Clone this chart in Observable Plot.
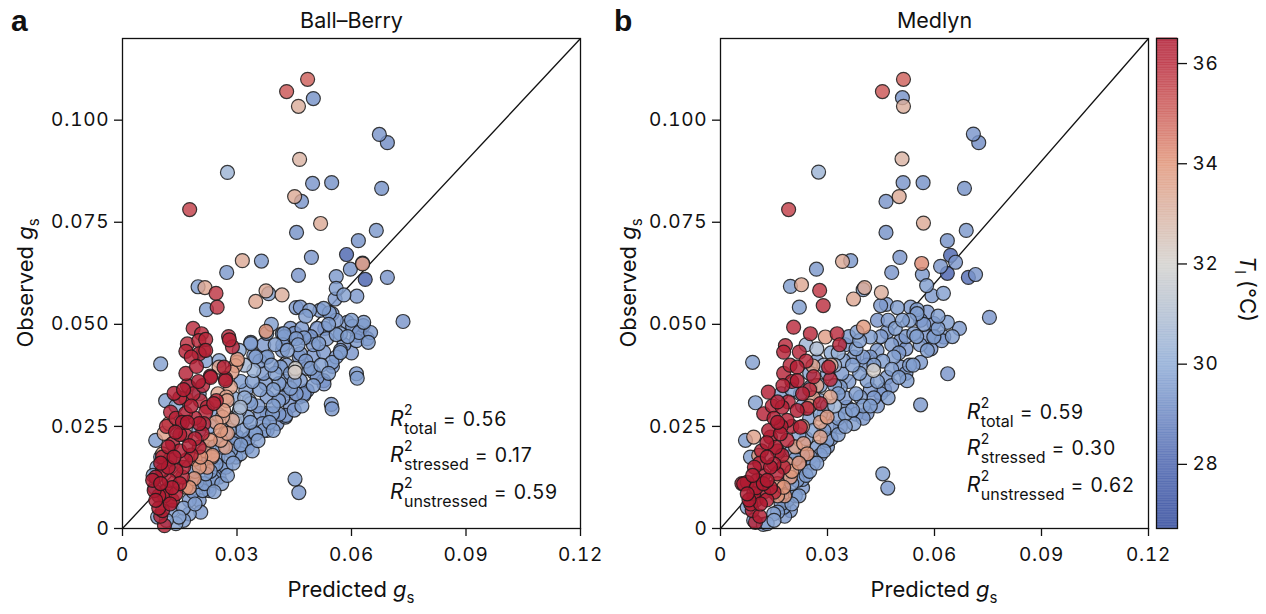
<!DOCTYPE html>
<html><head><meta charset="utf-8">
<script src="https://cdn.jsdelivr.net/npm/d3@7"></script>
<script src="https://cdn.jsdelivr.net/npm/@observablehq/plot@0.6"></script>
<style>
body{margin:0;background:#fff;}
#wrap{position:relative;width:1266px;height:614px;font-family:Inter,"Noto Sans",sans-serif;color:#111;}
#wrap svg{position:absolute;top:0;overflow:visible;}
</style></head><body><div id="wrap"></div>
<script>
// [predicted gs, observed gs, leaf temperature °C]
const ballBerry = [
[0.0485,0.110,35.0],[0.0430,0.107,35.2],[0.0500,0.1053,29.3],[0.0461,0.1034,33.2],[0.0673,0.0965,29.4],[0.0694,0.0945,29.2],
[0.0464,0.0904,33.0],[0.0275,0.0872,30.4],[0.0498,0.0845,29.4],[0.0548,0.0847,29.3],[0.0679,0.0833,29.3],[0.0451,0.0813,33.3],
[0.0469,0.0801,29.4],[0.0176,0.0781,35.6],[0.0519,0.0747,33.3],[0.0456,0.0725,29.3],[0.0665,0.0730,29.5],[0.0618,0.0705,29.3],
[0.0587,0.0671,28.1],[0.0629,0.0650,29.4],[0.0629,0.0648,33.8],[0.0495,0.0664,29.4],[0.0364,0.0655,29.5],[0.0314,0.0656,33.3],
[0.0273,0.0627,29.5],[0.0461,0.0620,29.4],[0.0597,0.0635,29.3],[0.0636,0.0610,28.0],[0.0694,0.0615,29.4],[0.0560,0.0617,29.5],
[0.0560,0.0588,29.6],[0.0614,0.0569,29.5],[0.0580,0.0572,29.7],[0.0557,0.0562,29.5],[0.0198,0.0592,29.6],[0.0216,0.0590,33.4],
[0.0245,0.0576,35.8],[0.0248,0.0542,35.9],[0.0220,0.0536,29.6],[0.0349,0.0556,33.4],[0.0376,0.0582,33.3],[0.0383,0.0575,29.8],
[0.0418,0.0572,33.2],[0.0455,0.0541,29.5],[0.0490,0.0534,29.6],[0.0517,0.0534,29.5],[0.0542,0.0528,29.6],[0.0735,0.0507,29.4],
[0.0376,0.0483,34.0],[0.0378,0.0478,29.6],[0.0185,0.0490,36.0],[0.0207,0.0477,36.1],[0.0218,0.0463,36.2],[0.0278,0.0470,36.0],
[0.0280,0.0462,36.3],[0.0288,0.0445,36.1],[0.0100,0.0403,29.7],[0.0170,0.0452,35.9],[0.0166,0.0434,36.2],[0.0201,0.0428,36.2],
[0.0218,0.0436,36.3],[0.0194,0.0397,36.4],[0.0166,0.0380,36.3],[0.0199,0.0360,36.5],[0.0230,0.0373,36.3],[0.0266,0.0395,36.4],
[0.0270,0.0367,36.2],[0.0135,0.0331,36.4],[0.0166,0.0318,36.1],[0.0204,0.0313,36.0],[0.0246,0.0313,36.2],
[0.0296,0.0399,33.6],[0.0301,0.0414,33.8],[0.0253,0.0395,33.5],[0.0272,0.0322,33.6],[0.0300,0.0407,33.4],[0.0287,0.0383,33.7],
[0.0283,0.0346,33.5],[0.0274,0.0313,33.6],[0.0265,0.0289,33.8],[0.0257,0.0240,33.9],[0.0257,0.0216,33.6],[0.0270,0.0199,33.5],
[0.0235,0.0175,33.7],[0.0222,0.0150,33.9],[0.0122,0.0257,33.8],[0.0109,0.0233,33.6],[0.0105,0.0183,33.7],[0.0230,0.0216,34.0],
[0.0236,0.0179,33.8],[0.0205,0.0175,34.1],[0.0201,0.0150,33.9],[0.0188,0.0122,34.0],[0.0166,0.0101,33.8],[0.0262,0.0273,33.5],
[0.0288,0.0265,33.3],[0.0275,0.0233,33.6],[0.0452,0.0383,32.2],
[0.0466,0.0542,29.5],[0.0527,0.0539,29.6],[0.0549,0.0526,29.4],[0.0589,0.0505,29.5],[0.0632,0.0505,29.6],[0.0641,0.0465,29.5],
[0.0615,0.0473,29.4],[0.0571,0.0477,29.6],[0.0571,0.0436,29.5],[0.0549,0.0407,29.6],[0.0613,0.0379,29.5],[0.0527,0.0362,29.4],
[0.0547,0.0304,29.5],[0.0423,0.0477,29.6],[0.0453,0.0477,29.5],[0.0493,0.0469,29.4],[0.0514,0.0453,29.6],[0.0527,0.0432,29.5],
[0.0500,0.0424,29.4],[0.0466,0.0428,29.5],[0.0432,0.0436,29.7],[0.0414,0.0395,29.6],[0.0453,0.0392,32.0],[0.0484,0.0392,29.5],
[0.0501,0.0383,29.3],[0.0466,0.0362,29.5],[0.0440,0.0343,29.6],[0.0484,0.0338,29.4],[0.0475,0.0326,29.5],[0.0409,0.0313,29.6],
[0.0379,0.0322,29.5],[0.0344,0.0387,30.3],[0.0336,0.0453,29.6],[0.0344,0.0424,29.5],[0.0379,0.0420,29.6],[0.0427,0.0273,29.5],
[0.0405,0.0257,29.4],[0.0370,0.0240,29.6],[0.0362,0.0282,29.5],[0.0327,0.0273,29.6],[0.0309,0.0297,30.8],[0.0336,0.0306,29.7],
[0.0291,0.0248,29.6],[0.0327,0.0199,29.5],[0.0309,0.0183,29.6],[0.0278,0.0175,29.7],[0.0257,0.0150,29.5],[0.0239,0.0126,29.6],
[0.0222,0.0101,29.5],[0.0291,0.0208,29.6],[0.0379,0.0282,29.4],[0.0379,0.0240,29.5],[0.0344,0.0236,29.6],[0.0270,0.0233,30.2],
[0.0336,0.0456,29.5],[0.0349,0.0420,29.6],[0.0375,0.0419,29.5],[0.0419,0.0477,29.4],[0.0450,0.0478,29.5],[0.0476,0.0467,29.6],
[0.0419,0.0436,29.5],[0.0463,0.0420,29.4],[0.0493,0.0392,29.6],[0.0375,0.0355,29.5],[0.0410,0.0355,29.6],[0.0437,0.0338,29.4],
[0.0476,0.0330,29.5],[0.0323,0.0338,29.6],[0.0306,0.0436,30.0],[0.0253,0.0411,29.8],[0.0218,0.0411,29.7],[0.0175,0.0346,29.6],
[0.0201,0.0330,29.8],[0.0113,0.0313,29.7],[0.0424,0.0470,29.5],[0.0455,0.0465,29.6],[0.0493,0.0470,29.5],[0.0530,0.0490,29.4],
[0.0560,0.0475,29.6],[0.0603,0.0495,29.5],[0.0631,0.0497,29.4],[0.0644,0.0456,29.6],[0.0613,0.0460,29.5],[0.0571,0.0431,29.6],
[0.0550,0.0397,29.5],[0.0615,0.0368,29.6],[0.0528,0.0354,29.4],[0.0549,0.0293,29.5],[0.0452,0.0121,29.6],[0.0462,0.0088,29.5],
[0.0087,0.0216,29.6],[0.0100,0.0175,29.7],[0.0092,0.0028,29.6],[0.0140,0.0012,29.8],[0.0175,0.0036,29.6],[0.0201,0.0069,29.5],
[0.0227,0.0093,29.6],[0.0253,0.0126,29.5],[0.0271,0.0150,29.6],[0.0297,0.0175,29.5],[0.0319,0.0208,29.4],[0.0349,0.0232,29.6],
[0.0367,0.0257,29.5],[0.0393,0.0281,29.6],[0.0428,0.0277,29.5],[0.0463,0.0322,29.4],[0.0332,0.0313,29.6],[0.0306,0.0289,30.4],
[0.0218,0.0134,29.7],[0.0210,0.0093,29.6],[0.0175,0.0069,29.5],[0.0148,0.0028,29.8],[0.0245,0.0158,29.6],[0.0288,0.0216,29.5],
[0.0314,0.0240,29.6],[0.0262,0.0199,29.7],[0.0236,0.0118,29.6],[0.0195,0.0115,29.6],[0.0185,0.0090,29.5],[0.0160,0.0050,29.7],
[0.0130,0.0045,29.6],[0.0115,0.0020,29.8],[0.0085,0.0100,29.6],[0.0080,0.0130,29.7],[0.0090,0.0150,29.6],[0.0283,0.0190,29.6],
[0.0300,0.0225,29.5],[0.0335,0.0260,29.6],[0.0355,0.0300,29.5],[0.0395,0.0300,29.6],[0.0420,0.0320,29.5],[0.0440,0.0300,29.4],
[0.0395,0.0340,29.6],[0.0450,0.0360,29.7],[0.0400,0.0380,29.6],[0.0370,0.0380,29.5],[0.0360,0.0340,29.6],[0.0430,0.0400,29.5],
[0.0520,0.0400,29.6],[0.0535,0.0465,29.5],[0.0590,0.0470,29.6],[0.0600,0.0430,29.4],[0.0560,0.0510,29.5],[0.0470,0.0490,29.5],
[0.0400,0.0450,29.6],[0.0320,0.0400,30.6],[0.0310,0.0360,29.6],[0.0290,0.0320,30.0],[0.0250,0.0280,29.7],[0.0230,0.0250,29.8],
[0.0220,0.0200,29.7],[0.0200,0.0240,29.8],[0.0150,0.0260,29.7],[0.0140,0.0300,30.0],
[0.0160,0.0020,29.6],[0.0190,0.0060,29.7],[0.0205,0.0040,29.5],[0.0215,0.0110,29.6],[0.0240,0.0090,29.7],[0.0260,0.0110,29.6],
[0.0250,0.0175,29.5],[0.0275,0.0130,29.6],[0.0290,0.0160,29.7],[0.0310,0.0205,29.6],[0.0330,0.0220,29.5],[0.0340,0.0190,29.6],
[0.0355,0.0215,29.7],[0.0385,0.0260,29.6],[0.0410,0.0280,29.5],[0.0395,0.0240,29.6],[0.0450,0.0290,29.5],[0.0470,0.0300,29.6],
[0.0455,0.0330,29.5],[0.0500,0.0350,29.6],[0.0510,0.0370,29.5],[0.0540,0.0380,29.6],[0.0560,0.0420,29.5],[0.0580,0.0450,29.4],
[0.0620,0.0480,29.5],[0.0600,0.0510,29.6],[0.0650,0.0480,29.5],[0.0540,0.0500,29.6],[0.0510,0.0490,29.4],[0.0480,0.0410,29.5],
[0.0440,0.0380,29.6],[0.0425,0.0360,29.5],[0.0390,0.0400,29.6],[0.0360,0.0410,29.5],[0.0340,0.0360,29.6],[0.0320,0.0320,30.2],
[0.0300,0.0270,30.5],[0.0280,0.0240,30.0],[0.0260,0.0220,29.8],[0.0240,0.0200,29.7],[0.0230,0.0140,29.6],[0.0205,0.0160,29.7],
[0.0190,0.0140,29.6],[0.0420,0.0450,29.5],[0.0460,0.0450,29.6],[0.0500,0.0450,29.5],[0.0440,0.0490,29.4],[0.0480,0.0520,29.6],
[0.0370,0.0450,29.5],[0.0390,0.0500,29.6],
[0.0126,0.0285,36.3],[0.0165,0.0282,36.4],[0.0218,0.0285,36.2],[0.0157,0.0260,36.5],[0.0201,0.0257,36.4],[0.0139,0.0236,36.5],
[0.0165,0.0228,36.3],[0.0131,0.0208,36.4],[0.0175,0.0203,36.5],[0.0201,0.0199,36.2],[0.0135,0.0175,36.6],[0.0166,0.0167,36.4],
[0.0105,0.0142,36.5],[0.0140,0.0142,36.3],[0.0087,0.0126,36.5],[0.0122,0.0118,36.4],[0.0157,0.0126,36.2],[0.0083,0.0093,36.5],
[0.0114,0.0093,36.3],[0.0140,0.0085,36.4],[0.0087,0.0069,36.5],[0.0105,0.0044,36.4],[0.0110,0.0007,36.3],[0.0079,0.0118,36.6],
[0.0131,0.0069,36.2],[0.0105,0.0175,36.4],[0.0222,0.0297,36.1],[0.0239,0.0306,36.3],[0.0213,0.0257,36.2],[0.0209,0.0233,36.3],
[0.0213,0.0436,36.1],[0.0231,0.0370,36.4],[0.0270,0.0362,36.3],[0.0180,0.0300,36.4],[0.0150,0.0320,36.2],[0.0190,0.0270,36.3],
[0.0120,0.0200,36.5],[0.0150,0.0190,36.4],[0.0180,0.0180,36.3],[0.0100,0.0110,36.6],[0.0120,0.0150,36.5],[0.0095,0.0080,36.4],
[0.0125,0.0060,36.5],[0.0100,0.0030,36.3],[0.0160,0.0150,36.2],[0.0115,0.0250,36.1],[0.0190,0.0220,36.3],[0.0170,0.0350,36.2],
[0.0095,0.0050,36.4],[0.0110,0.0080,36.3],[0.0130,0.0100,36.5],[0.0150,0.0110,36.4],[0.0100,0.0160,36.5],[0.0125,0.0170,36.3],
[0.0150,0.0230,36.4],[0.0170,0.0260,36.5],[0.0140,0.0270,36.3],[0.0160,0.0340,36.4],[0.0185,0.0330,36.2],[0.0210,0.0350,36.3],
[0.0180,0.0420,36.3],[0.0200,0.0460,36.1],[0.0175,0.0100,34.0],[0.0190,0.0170,33.8],[0.0215,0.0190,33.6],[0.0245,0.0260,33.7],
[0.0250,0.0330,33.5]
];
const medlyn = [
[0.0513,0.110,35.0],[0.0454,0.107,35.2],[0.0510,0.1055,29.3],[0.0513,0.1034,33.2],[0.0709,0.0966,29.4],[0.0724,0.0945,29.2],
[0.0509,0.0905,33.0],[0.0275,0.0873,30.4],[0.0512,0.0847,29.4],[0.0568,0.0847,29.3],[0.0684,0.0833,29.3],[0.0501,0.0813,33.3],
[0.0464,0.0801,29.4],[0.0191,0.0781,35.6],[0.0569,0.0748,33.3],[0.0464,0.0725,29.3],[0.0689,0.0730,29.5],[0.0636,0.0705,29.3],
[0.0503,0.0664,29.4],[0.0564,0.0649,34.2],[0.0342,0.0654,33.3],[0.0365,0.0656,29.5],[0.0269,0.0635,29.5],[0.0480,0.0627,29.4],
[0.0645,0.0669,28.1],[0.0617,0.0642,29.4],[0.0636,0.0625,28.0],[0.0659,0.0652,29.4],[0.0695,0.0615,28.3],[0.0715,0.0622,29.4],
[0.0566,0.0622,29.5],[0.0578,0.0595,29.6],[0.0593,0.0570,29.5],[0.0625,0.0576,29.7],[0.0196,0.0593,29.6],[0.0227,0.0597,33.4],
[0.0278,0.0583,35.8],[0.0288,0.0546,35.9],[0.0221,0.0542,29.6],[0.0400,0.0585,29.8],[0.0404,0.0590,33.3],[0.0451,0.0578,33.2],
[0.0373,0.0562,33.4],[0.0465,0.0549,29.5],[0.0496,0.0541,29.6],[0.0533,0.0542,29.5],[0.0551,0.0536,29.6],[0.0754,0.0517,29.4],
[0.0449,0.0546,29.5],[0.0551,0.0526,29.6],[0.0561,0.0510,29.5],[0.0598,0.0502,29.4],[0.0636,0.0505,29.6],[0.0626,0.0469,29.5],
[0.0580,0.0436,29.6],[0.0561,0.0407,29.5],[0.0637,0.0379,29.4],[0.0561,0.0303,29.5],[0.0523,0.0362,29.6],[0.0505,0.0395,29.5],
[0.0486,0.0420,29.6],[0.0439,0.0436,29.5],[0.0420,0.0469,29.6],[0.0383,0.0481,29.7],[0.0401,0.0493,33.9],[0.0467,0.0481,29.5],
[0.0505,0.0460,29.4],[0.0542,0.0477,29.6],[0.0429,0.0387,32.1],[0.0467,0.0370,29.5],[0.0411,0.0362,29.6],[0.0449,0.0330,29.5],
[0.0392,0.0322,29.6],[0.0355,0.0297,29.5],[0.0411,0.0282,29.4],[0.0374,0.0257,29.6],[0.0336,0.0248,29.5],[0.0299,0.0216,29.6],
[0.0271,0.0199,29.5],[0.0252,0.0175,29.6],[0.0224,0.0150,29.5],[0.0215,0.0118,29.6],[0.0187,0.0085,29.5],[0.0177,0.0052,29.6],
[0.0149,0.0036,29.7],[0.0131,0.0012,29.8],[0.0345,0.0411,29.6],[0.0374,0.0420,29.5],[0.0336,0.0346,29.6],[0.0280,0.0313,29.7],
[0.0252,0.0346,29.8],[0.0224,0.0330,29.7],[0.0455,0.0134,29.6],[0.0469,0.0099,29.5],[0.0598,0.0469,29.6],
[0.0070,0.0216,29.6],[0.0098,0.0308,29.7],[0.0090,0.0407,29.7],[0.0084,0.0175,29.6],[0.0075,0.0052,29.7],[0.0093,0.0020,29.6],
[0.0187,0.0069,29.6],[0.0196,0.0044,29.5],
[0.0420,0.0420,29.5],[0.0455,0.0410,29.6],[0.0480,0.0450,29.5],[0.0520,0.0440,29.4],[0.0550,0.0470,29.6],[0.0570,0.0500,29.5],
[0.0530,0.0510,29.6],[0.0600,0.0470,29.5],[0.0390,0.0380,29.6],[0.0360,0.0360,29.5],[0.0380,0.0330,29.6],[0.0420,0.0340,29.5],
[0.0460,0.0340,29.4],[0.0480,0.0390,29.6],[0.0440,0.0300,29.5],[0.0400,0.0300,29.6],[0.0350,0.0320,29.5],[0.0320,0.0300,30.4],
[0.0330,0.0270,29.6],[0.0310,0.0250,29.5],[0.0350,0.0280,29.6],[0.0380,0.0280,29.5],[0.0290,0.0240,29.6],[0.0300,0.0200,29.5],
[0.0260,0.0160,29.6],[0.0280,0.0180,29.5],[0.0240,0.0130,29.6],[0.0230,0.0100,29.5],[0.0210,0.0080,29.6],[0.0200,0.0110,29.7],
[0.0170,0.0060,29.6],[0.0150,0.0020,29.8],[0.0120,0.0010,29.7],[0.0320,0.0400,30.6],[0.0300,0.0380,29.8],[0.0270,0.0410,29.7],
[0.0250,0.0380,29.8],[0.0280,0.0350,29.7],[0.0200,0.0340,29.8],[0.0170,0.0330,29.7],[0.0230,0.0300,29.8],[0.0250,0.0270,29.7],
[0.0220,0.0230,29.8],[0.0200,0.0190,29.7],[0.0380,0.0440,29.6],[0.0350,0.0450,29.5],[0.0310,0.0430,30.0],[0.0270,0.0440,30.8],
[0.0240,0.0450,30.5],[0.0320,0.0350,29.6],[0.0290,0.0280,29.7],[0.0410,0.0400,29.5],[0.0440,0.0360,29.6],[0.0500,0.0430,29.5],
[0.0530,0.0400,29.6],[0.0580,0.0470,29.4],[0.0610,0.0490,29.6],[0.0470,0.0510,29.5],
[0.0160,0.0040,29.6],[0.0180,0.0030,29.5],[0.0200,0.0060,29.7],[0.0220,0.0080,29.6],[0.0230,0.0120,29.5],[0.0250,0.0140,29.6],
[0.0270,0.0160,29.7],[0.0290,0.0190,29.6],[0.0310,0.0220,29.5],[0.0330,0.0230,29.6],[0.0350,0.0250,29.7],[0.0370,0.0290,29.6],
[0.0400,0.0270,29.5],[0.0420,0.0300,29.6],[0.0430,0.0320,29.5],[0.0470,0.0320,29.6],[0.0480,0.0350,29.5],[0.0500,0.0370,29.6],
[0.0520,0.0380,29.5],[0.0540,0.0400,29.6],[0.0560,0.0450,29.5],[0.0590,0.0440,29.4],[0.0620,0.0460,29.5],[0.0650,0.0470,29.6],
[0.0670,0.0490,29.5],[0.0610,0.0520,29.6],[0.0580,0.0530,29.4],[0.0520,0.0470,29.5],[0.0490,0.0490,29.6],[0.0450,0.0470,29.5],
[0.0430,0.0400,29.6],[0.0400,0.0420,29.5],[0.0370,0.0400,29.6],[0.0340,0.0380,29.5],[0.0330,0.0330,29.6],[0.0300,0.0300,30.2],
[0.0280,0.0280,30.0],[0.0260,0.0240,29.8],[0.0240,0.0220,29.7],[0.0230,0.0180,29.6],[0.0210,0.0170,29.7],[0.0190,0.0120,29.6],
[0.0360,0.0470,29.5],[0.0390,0.0460,29.6],[0.0440,0.0510,29.4],[0.0510,0.0510,29.6],[0.0330,0.0430,30.3],[0.0290,0.0400,30.6],
[0.0294,0.0469,33.7],[0.0259,0.0398,33.6],[0.0308,0.0322,33.5],[0.0299,0.0273,33.8],[0.0280,0.0224,33.6],[0.0243,0.0183,33.9],
[0.0177,0.0101,34.0],[0.0196,0.0126,33.8],[0.0233,0.0208,33.7],[0.0093,0.0224,33.6],[0.0107,0.0179,33.8],[0.0270,0.0350,33.5],
[0.0250,0.0300,33.7],[0.0220,0.0160,34.0],[0.0200,0.0140,33.9],[0.0160,0.0110,33.8],[0.0280,0.0260,33.6],[0.0310,0.0400,33.4],
[0.0180,0.0080,33.9],[0.0160,0.0080,33.9],[0.0185,0.0160,33.8],[0.0210,0.0200,33.6],[0.0230,0.0250,33.7],[0.0260,0.0320,33.5],
[0.0205,0.0493,36.0],[0.0252,0.0477,36.1],[0.0327,0.0477,36.0],[0.0334,0.0450,36.2],[0.0182,0.0448,36.1],[0.0177,0.0432,36.3],
[0.0221,0.0432,36.2],[0.0215,0.0395,36.4],[0.0303,0.0395,36.3],[0.0177,0.0380,36.2],[0.0215,0.0362,36.5],[0.0261,0.0372,36.3],
[0.0308,0.0365,36.2],[0.0134,0.0334,36.4],[0.0121,0.0281,36.3],[0.0173,0.0297,36.4],[0.0215,0.0289,36.5],[0.0243,0.0294,36.3],
[0.0280,0.0306,36.2],[0.0187,0.0265,36.4],[0.0224,0.0248,36.3],[0.0168,0.0232,36.5],[0.0140,0.0224,36.4],[0.0187,0.0216,36.3],
[0.0154,0.0199,36.5],[0.0131,0.0175,36.6],[0.0173,0.0179,36.4],[0.0150,0.0158,36.5],[0.0177,0.0150,36.3],[0.0075,0.0113,36.5],
[0.0103,0.0118,36.4],[0.0131,0.0118,36.6],[0.0159,0.0134,36.3],[0.0093,0.0085,36.5],[0.0121,0.0089,36.4],[0.0150,0.0089,36.3],
[0.0075,0.0085,36.6],[0.0089,0.0044,36.4],[0.0112,0.0060,36.5],[0.0098,0.0015,36.3],[0.0065,0.0109,36.5],[0.0060,0.0110,36.4],
[0.0240,0.0410,36.2],[0.0200,0.0360,36.3],[0.0160,0.0310,36.4],[0.0190,0.0310,36.3],[0.0150,0.0270,36.5],[0.0170,0.0250,36.4],
[0.0130,0.0210,36.5],[0.0110,0.0160,36.4],[0.0140,0.0150,36.5],[0.0090,0.0130,36.6],[0.0120,0.0130,36.3],[0.0100,0.0100,36.5],
[0.0130,0.0070,36.4],[0.0080,0.0070,36.5],[0.0110,0.0030,36.4],[0.0160,0.0190,36.3],[0.0200,0.0250,36.2],[0.0250,0.0340,36.1],
[0.0085,0.0060,36.4],[0.0100,0.0070,36.3],[0.0120,0.0110,36.5],[0.0140,0.0100,36.4],[0.0095,0.0150,36.5],[0.0115,0.0190,36.3],
[0.0135,0.0240,36.4],[0.0160,0.0260,36.5],[0.0145,0.0300,36.3],[0.0175,0.0350,36.4],[0.0195,0.0400,36.2],[0.0230,0.0330,36.3]
];
const xTicks = [0, 0.03, 0.06, 0.09, 0.12];
const xTickLabels = ["0", "0.03", "0.06", "0.09", "0.12"];
const yTicks = [0, 0.025, 0.05, 0.075, 0.1];
const yTickLabels = ["0", "0.025", "0.050", "0.075", "0.100"];
const tempTicks = [28, 30, 32, 34, 36];
const tempDomain = [26.72, 36.5];
const palette = ["#2e479b", "#4a63ae", "#8eabd6", "#d3d1cd", "#e19579", "#ba2b3d", "#b01a31"];
const paletteStops = [26.72, 28, 30, 32, 34, 36, 36.5];
const oneToOne = [{x1: 0, y1: 0, x2: 0.12, y2: 0.12}];
const r2Groups = ["total", "stressed", "unstressed"];
const r2BallBerry = ["0.56", "0.17", "0.59"];
const r2Medlyn = ["0.59", "0.30", "0.62"];

const wrap = document.getElementById("wrap");
const tempToColor = d3.scaleLinear().domain(paletteStops).range(palette).interpolate(d3.interpolateRgb).clamp(true);
const colorInterp = t => tempToColor(tempDomain[0] + t * (tempDomain[1] - tempDomain[0]));
const colorScale = {type: "linear", domain: tempDomain, interpolate: colorInterp};
const FONT = "Inter, 'Noto Sans', sans-serif";
const NS = "http://www.w3.org/2000/svg";

function txt(parent, x, y, str, attrs = {}) {
  const t = document.createElementNS(NS, "text");
  t.setAttribute("x", x); t.setAttribute("y", y);
  t.setAttribute("font-family", FONT); t.setAttribute("fill", "#111");
  t.setAttribute("text-anchor", "start");
  for (const k in attrs) t.setAttribute(k, attrs[k]);
  t.textContent = str;
  parent.appendChild(t);
  return t;
}
function tspan(parent, str, attrs = {}) {
  const s = document.createElementNS(NS, "tspan");
  for (const k in attrs) s.setAttribute(k, attrs[k]);
  s.textContent = str;
  parent.appendChild(s);
  return s;
}
function styleTicks(plot) {
  d3.select(plot).selectAll('g[aria-label$="tick label"]')
    .style("font-size", "19px").style("letter-spacing", "0.8px").attr("fill", "#111");
}

function panel(data, title, left, width, mLeft, mRight, letter, r2) {
  const sorted = data.slice().sort((a, b) => a[2] - b[2]);
  const plot = Plot.plot({
    width, height: 614, marginLeft: mLeft, marginRight: mRight, marginTop: 38, marginBottom: 86,
    style: {fontFamily: FONT, fontSize: "19px", color: "#111", background: "transparent", overflow: "visible"},
    x: {domain: [0, 0.12]},
    y: {domain: [0, 0.12]},
    color: colorScale,
    marks: [
      Plot.axisX({ticks: xTicks, tickFormat: d => xTickLabels[xTicks.indexOf(d)], tickSize: 8, tickPadding: 11, label: null, strokeWidth: 1.3}),
      Plot.axisY({ticks: yTicks, tickFormat: d => yTickLabels[yTicks.indexOf(d)], tickSize: 8, tickPadding: 5, label: null, strokeWidth: 1.3}),
      Plot.link(oneToOne, {x1: "x1", y1: "y1", x2: "x2", y2: "y2", stroke: "#111", strokeWidth: 1.3}),
      Plot.dot(sorted, {x: d => d[0], y: d => d[1], fill: d => d[2], r: 7, stroke: "#1a1a1a", strokeWidth: 1.2, strokeOpacity: 0.85, fillOpacity: 0.82}),
      Plot.frame({stroke: "#111", strokeWidth: 1.3}),
      Plot.text([title], {text: d => d, frameAnchor: "top", lineAnchor: "bottom", dy: -11, fontSize: 21.5, fill: "#111"})
    ]
  });
  plot.style.left = left + "px";
  wrap.appendChild(plot);
  styleTicks(plot);
  const sx = plot.scale("x").apply, sy = plot.scale("y").apply;
  const cx = (sx(0) + sx(0.12)) / 2, cy = (sy(0) + sy(0.12)) / 2;
  txt(plot, letter.x, 31, letter.t, {"font-size": 30, "font-weight": "bold", "font-family": "'Liberation Sans', Arial, sans-serif"});
  const xl = txt(plot, cx, 597, "", {"font-size": 22, "text-anchor": "middle"});
  xl.innerHTML = 'Predicted <tspan font-style="italic">g</tspan><tspan font-size="15" dy="6">s</tspan>';
  const yl = txt(plot, 0, 0, "", {"font-size": 22, "text-anchor": "middle", transform: `translate(${letter.yl},${cy}) rotate(-90)`});
  yl.innerHTML = 'Observed <tspan font-style="italic">g</tspan><tspan font-size="15" dy="6">s</tspan>';
  const x0 = sx(r2.x), y0 = sy(r2.y);
  const probe = txt(plot, 0, -100, "R", {"font-size": 21, "font-style": "italic"});
  const rw = probe.getComputedTextLength();
  probe.remove();
  r2Groups.forEach((g, i) => {
    const by = y0 + i * 36.5;
    const t = txt(plot, x0, by, "", {"font-size": 21});
    tspan(t, "R", {"font-style": "italic"});
    tspan(t, "2", {x: x0 + rw + 0.5, y: by - 11, "font-size": 14});
    const sub = tspan(t, g, {x: x0 + rw + 0.5, y: by + 8, "font-size": 16});
    const sw = sub.getComputedTextLength();
    tspan(t, "= " + r2.v[i], {x: x0 + rw + 0.5 + sw + 6, y: by, "font-size": 19.5, "letter-spacing": "0.8px"});
  });
  return plot;
}

panel(ballBerry, "Ball\u2013Berry", 0, 600, 122, 20, {t: "a", x: 11, yl: 33}, {x: 0.0702, y: 0.0250, v: r2BallBerry});
panel(medlyn, "Medlyn", 600, 560, 120, 12, {t: "b", x: 14, yl: 36}, {x: 0.0692, y: 0.0268, v: r2Medlyn});

// colour bar
const bands = d3.range(200).map(i => {
  const lo = tempDomain[0] + (tempDomain[1] - tempDomain[0]) * i / 200;
  const hi = tempDomain[0] + (tempDomain[1] - tempDomain[0]) * (i + 1) / 200;
  return {lo, hi: hi + 0.01, mid: (lo + hi) / 2};
});
const bar = Plot.plot({
  width: 116, height: 614, marginLeft: 6, marginRight: 89, marginTop: 38, marginBottom: 86,
  style: {fontFamily: FONT, fontSize: "19px", color: "#111", background: "transparent", overflow: "visible"},
  x: {domain: [0, 1], axis: null},
  y: {domain: tempDomain},
  color: colorScale,
  marks: [
    Plot.rect(bands, {x1: 0, x2: 1, y1: "lo", y2: "hi", fill: "mid", fillOpacity: 0.8}),
    Plot.frame({stroke: "#111", strokeWidth: 1.3}),
    Plot.axisY({anchor: "right", ticks: tempTicks, tickSize: 9, tickPadding: 6, label: null, strokeWidth: 1.3})
  ]
});
bar.style.left = "1150px";
wrap.appendChild(bar);
styleTicks(bar);
const tl = txt(bar, 0, 0, "", {"font-size": 22, "text-anchor": "middle", transform: `translate(90,289) rotate(90)`});
tl.innerHTML = '<tspan font-style="italic">T</tspan><tspan font-size="15" dy="5">l</tspan><tspan dy="-5"> (°C)</tspan>';
</script></body></html>
